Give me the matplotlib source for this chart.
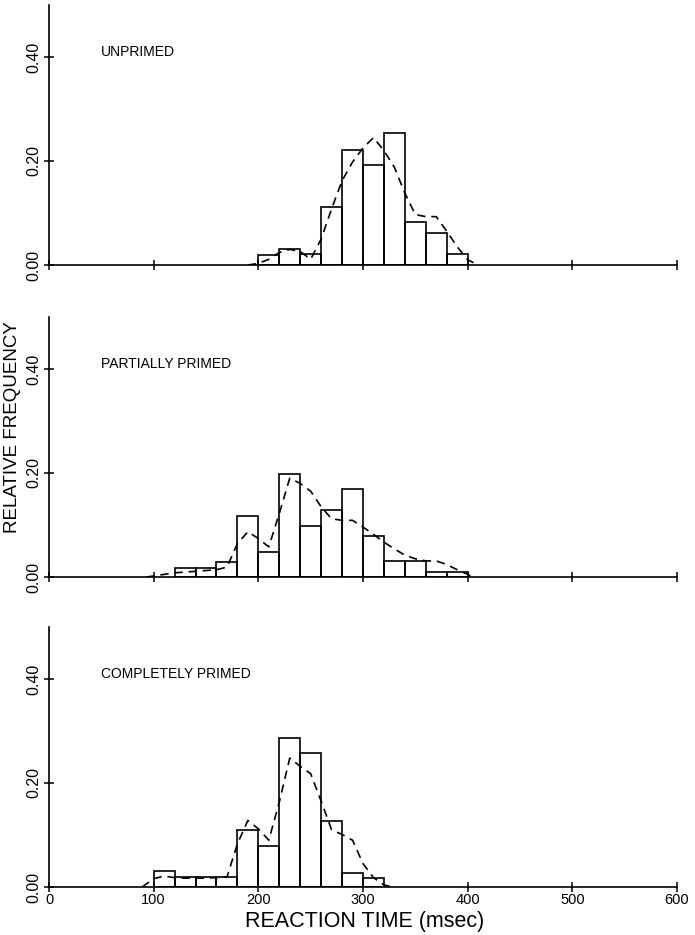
"""Reaction-time distributions for three priming conditions."""

import matplotlib
matplotlib.use("Agg")
import matplotlib.pyplot as plt

plt.rcParams["font.family"] = ["Liberation Sans", "DejaVu Sans"]

# bin left edges (msec, 20 ms bins) and relative frequencies
unprimed_bins = [200, 220, 240, 260, 280, 300, 320, 340, 360, 380]
unprimed_freq = [0.019, 0.031, 0.021, 0.112, 0.221, 0.193, 0.253, 0.083, 0.062, 0.022]

partial_bins = [120, 140, 160, 180, 200, 220, 240, 260, 280, 300, 320, 340, 360, 380]
partial_freq = [0.017, 0.017, 0.028, 0.117, 0.048, 0.198, 0.099, 0.129, 0.170,
                0.079, 0.031, 0.031, 0.010, 0.010]

complete_bins = [100, 120, 140, 160, 180, 200, 220, 240, 260, 280, 300]
complete_freq = [0.030, 0.019, 0.019, 0.019, 0.109, 0.079, 0.287, 0.258, 0.126,
                 0.027, 0.018]

# smoothed density estimates (dashed curves)
unprimed_rt = [190, 200, 210, 220, 230, 240, 250, 260, 270, 280, 290, 300, 310,
               320, 330, 340, 350, 360, 370, 380, 390, 400, 410]
unprimed_dens = [0.0, 0.003, 0.011, 0.024, 0.030, 0.026, 0.011, 0.050, 0.108,
                 0.162, 0.198, 0.225, 0.245, 0.220, 0.188, 0.138, 0.097, 0.093,
                 0.093, 0.065, 0.035, 0.010, 0.0]

partial_rt = [93, 100, 120, 140, 160, 170, 180, 190, 200, 210, 220, 230, 240,
              250, 260, 270, 280, 290, 300, 310, 320, 330, 340, 350, 360, 370,
              380, 390, 400, 405]
partial_dens = [0.0, 0.002, 0.008, 0.011, 0.014, 0.019, 0.064, 0.087, 0.074,
                0.058, 0.122, 0.190, 0.180, 0.165, 0.135, 0.112, 0.109, 0.109,
                0.096, 0.082, 0.067, 0.054, 0.042, 0.035, 0.031, 0.031, 0.024,
                0.014, 0.005, 0.0]

complete_rt = [89, 100, 110, 120, 130, 140, 150, 160, 170, 180, 190, 200, 210,
               220, 230, 240, 250, 260, 270, 280, 290, 300, 310, 320, 328]
complete_dens = [0.0, 0.016, 0.021, 0.018, 0.017, 0.017, 0.017, 0.018, 0.019,
                 0.083, 0.128, 0.112, 0.090, 0.163, 0.248, 0.232, 0.218, 0.165,
                 0.110, 0.101, 0.090, 0.045, 0.018, 0.004, 0.0]

labels = ["UNPRIMED", "PARTIALLY PRIMED", "COMPLETELY PRIMED"]
x_ticks = [0, 100, 200, 300, 400, 500, 600]
y_ticks = [0.0, 0.2, 0.4]

panels = [
    (unprimed_bins, unprimed_freq, unprimed_rt, unprimed_dens),
    (partial_bins, partial_freq, partial_rt, partial_dens),
    (complete_bins, complete_freq, complete_rt, complete_dens),
]

W, H = 695, 935
fig = plt.figure(figsize=(W / 100, H / 100), dpi=100)

baselines = [265, 577, 887]
for i, (bins, freq, rt, dens) in enumerate(panels):
    base = baselines[i]
    ax = fig.add_axes([49 / W, 1 - base / H, 628 / W, 260 / H])
    ax.bar(bins, freq, width=20, align="edge", fill=False,
           edgecolor="black", linewidth=1.2)
    ax.plot(rt, dens, color="black", linestyle=(0, (5, 3.5)), linewidth=1.2)

    ax.set_xlim(0, 600)
    ax.set_ylim(0, 0.5)
    for side in ("top", "right"):
        ax.spines[side].set_visible(False)
    for side in ("left", "bottom"):
        ax.spines[side].set_linewidth(1.2)

    ax.set_xticks(x_ticks)
    ax.set_yticks(y_ticks)
    ax.set_yticklabels([f"{v:.2f}" for v in y_ticks], rotation=90, va="center")
    ax.tick_params(direction="inout", length=7, width=1.1, colors="black")
    ax.tick_params(axis="y", labelsize=11.5, pad=2)
    ax.tick_params(axis="x", labelsize=10.5, pad=1)
    if i < 2:
        ax.set_xticklabels([])

    ax.text(50, 0.41, labels[i], fontsize=10, ha="left", va="center")

fig.text(13 / W, 1 - 427 / H, "RELATIVE FREQUENCY", rotation=90,
         fontsize=13.5, ha="center", va="center")
fig.text(365 / W, 1 - 922 / H, "REACTION TIME (msec)", fontsize=15.5,
         ha="center", va="center")

fig.savefig("out.png", dpi=100)
